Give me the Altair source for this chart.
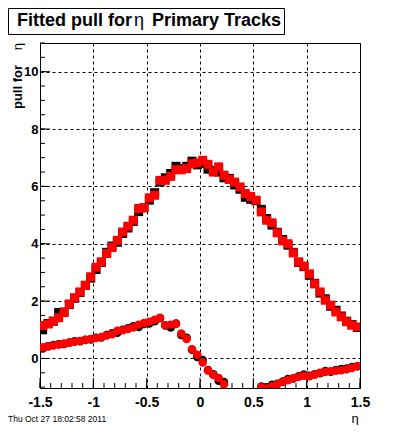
import altair as alt
import pandas as pd
import numpy as np

# bin centres in eta
eta = [-1.475, -1.425, -1.375, -1.325, -1.275, -1.225, -1.175, -1.125, -1.075, -1.025,
       -0.975, -0.925, -0.875, -0.825, -0.775, -0.725, -0.675, -0.625, -0.575, -0.525,
       -0.475, -0.425, -0.375, -0.325, -0.275, -0.225, -0.175, -0.125, -0.075, -0.025,
       0.025, 0.075, 0.125, 0.175, 0.225, 0.275, 0.325, 0.375, 0.425, 0.475,
       0.525, 0.575, 0.625, 0.675, 0.725, 0.775, 0.825, 0.875, 0.925, 0.975,
       1.025, 1.075, 1.125, 1.175, 1.225, 1.275, 1.325, 1.375, 1.425, 1.475]

red_upper = [1.15, 1.2, 1.3, 1.42, 1.6, 1.9, 2.12, 2.32, 2.55, 2.85,
             3.18, 3.37, 3.66, 3.87, 4.12, 4.41, 4.61, 4.82, 5.23, 5.26,
             5.6, 5.69, 6.21, 6.21, 6.35, 6.58, 6.58, 6.62, 6.79, 6.82,
             6.91, 6.77, 6.5, 6.68, 6.39, 6.24, 6.15, 5.98, 5.75, 5.65,
             5.52, 5.11, 4.82, 4.73, 4.38, 4.1, 4.0, 3.68, 3.37, 3.22,
             2.95, 2.6, 2.32, 2.03, 1.86, 1.62, 1.45, 1.28, 1.16, 1.1]

black_upper = [1.0, 1.22, 1.3, 1.6, 1.62, 1.88, 2.1, 2.3, 2.55, 2.8,
               3.1, 3.35, 3.7, 3.92, 4.05, 4.36, 4.55, 4.78, 5.12, 5.25,
               5.52, 5.78, 6.15, 6.3, 6.45, 6.7, 6.62, 6.7, 6.88, 6.75,
               6.8, 6.6, 6.55, 6.5, 6.3, 6.28, 6.05, 5.9, 5.62, 5.55,
               5.5, 5.2, 4.88, 4.65, 4.4, 4.15, 3.95, 3.7, 3.35, 3.2,
               2.9, 2.62, 2.28, 2.08, 1.82, 1.68, 1.48, 1.3, 1.18, 1.08]

red_lower = [0.38, 0.42, 0.45, 0.48, 0.52, 0.55, 0.58, 0.61, 0.64, 0.68,
             0.71, 0.75, 0.80, 0.84, 0.97, 0.98, 1.03, 1.08, 1.18, 1.24,
             1.28, 1.35, 1.42, 1.16, 1.18, 1.2, 0.87, 0.68, 0.32, 0.13,
             -0.14, -0.42, -0.58, -0.68, -0.9, None, None, None, None, None,
             None, -1.0, -1.05, -0.97, -0.9, -0.82, -0.76, -0.69, -0.64, -0.6,
             -0.62, -0.57, -0.5, -0.47, -0.45, -0.43, -0.41, -0.38, -0.33, -0.27]

black_lower = [0.35, 0.43, 0.47, 0.5, 0.5, 0.56, 0.6, 0.6, 0.65, 0.66,
               0.72, 0.73, 0.82, 0.88, 0.9, 1.0, 1.05, 1.12, 1.1, 1.2,
               1.22, 1.3, 1.4, 1.15, 1.08, 1.22, 0.82, 0.72, 0.3, 0.05,
               -0.05, -0.4, -0.55, -0.78, -0.82, None, None, None, None, None,
               None, -0.98, -1.0, -0.92, -0.88, -0.8, -0.72, -0.7, -0.62, -0.56,
               -0.6, -0.55, -0.52, -0.44, -0.46, -0.4, -0.37, -0.35, -0.3, -0.27]

x_major = [-1.5, -1, -0.5, 0, 0.5, 1, 1.5]
y_major = [0, 2, 4, 6, 8, 10]
x_minor = [round(v, 2) for v in np.arange(-1.5, 1.501, 0.1)]
y_minor = [round(v, 2) for v in np.arange(-1.0, 11.001, 0.5)]

W, H = 320, 345
FONT = "Liberation Sans"

df = pd.DataFrame({"eta": eta, "ru": red_upper, "bu": black_upper,
                   "rl": red_lower, "bl": black_lower})

xs = alt.Scale(domain=[-1.5, 1.5], nice=False, zero=False)
ys = alt.Scale(domain=[-1.03, 11.0], nice=False, zero=False)

xaxis = alt.Axis(values=x_major, labelExpr="toString(datum.value)", grid=True,
                 gridDash=[3, 3], gridColor="black", gridOpacity=1, gridWidth=1,
                 domain=False, ticks=False, labelFont=FONT, labelFontWeight="bold",
                 labelFontSize=14, labelColor="black", labelPadding=7, title=None,
                 labelFlush=False, labelOverlap=False)
yaxis = alt.Axis(values=y_major, labelExpr="toString(datum.value)", grid=True,
                 gridDash=[3, 3], gridColor="black", gridOpacity=1, gridWidth=1,
                 domain=False, ticks=False, labelFont=FONT, labelFontWeight="bold",
                 labelFontSize=13, labelColor="black", labelPadding=2, title=None,
                 labelFlush=False, labelOverlap=False)


def pts(field, color, shape, size):
    return alt.Chart(df).mark_point(filled=True, shape=shape, size=size, color=color,
                                    opacity=1, clip=True).encode(
        x=alt.X("eta:Q", scale=xs, axis=xaxis),
        y=alt.Y(f"{field}:Q", scale=ys, axis=yaxis))


layers = []
# inside ticks
layers.append(alt.Chart(pd.DataFrame({"v": x_minor})).mark_rule(color="black", strokeWidth=1).encode(
    x=alt.X("v:Q", scale=xs, axis=xaxis), y=alt.value(H), y2=alt.value(H - 5)))
layers.append(alt.Chart(pd.DataFrame({"v": x_major})).mark_rule(color="black", strokeWidth=1).encode(
    x=alt.X("v:Q", scale=xs, axis=xaxis), y=alt.value(H), y2=alt.value(H - 10)))
layers.append(alt.Chart(pd.DataFrame({"v": y_minor})).mark_rule(color="black", strokeWidth=1).encode(
    y=alt.Y("v:Q", scale=ys, axis=yaxis), x=alt.value(0), x2=alt.value(5)))
layers.append(alt.Chart(pd.DataFrame({"v": y_major})).mark_rule(color="black", strokeWidth=1).encode(
    y=alt.Y("v:Q", scale=ys, axis=yaxis), x=alt.value(0), x2=alt.value(10)))

layers += [pts("bu", "black", "square", 81), pts("bl", "black", "circle", 72),
           pts("ru", "red", "square", 81), pts("rl", "red", "circle", 72)]

one = pd.DataFrame({"a": [0]})


def txt(s, x, y, size, weight="normal", align="left", angle=0, baseline="alphabetic"):
    return alt.Chart(one).mark_text(text=s, font=FONT, fontSize=size, fontWeight=weight,
                                    align=align, baseline=baseline, angle=angle,
                                    color="black").encode(x=alt.value(x), y=alt.value(y))


# title box
layers.append(alt.Chart(one).mark_rect(fill="white", stroke="black", strokeWidth=1).encode(
    x=alt.value(-31.5), x2=alt.value(244.5), y=alt.value(-34.5), y2=alt.value(-8.5)))
layers.append(txt("Fitted pull for", -23, -17, 18, "bold"))
layers.append(txt("\u03b7", 94, -17, 18))
layers.append(txt("Primary Tracks", 112, -17, 18, "bold"))
# y title
layers.append(txt("pull for", -18, 22, 13, "bold", align="right", angle=270))
layers.append(txt("\u03b7", -18, 0, 13, align="right", angle=270))
# x title
layers.append(txt("\u03b7", 315, 380, 13, align="center"))
# timestamp
layers.append(txt("Thu Oct 27 18:02:58 2011", -32, 379, 8.5))

chart = alt.layer(*layers).properties(
    width=W, height=H,
    padding={"left": 32, "top": 35, "right": 32, "bottom": 37},
    autosize=alt.AutoSizeParams(type="none"),
    background="white",
).configure_view(stroke="black", strokeWidth=1)

chart.save("out.html", embed_options={"renderer": "svg", "actions": False})
